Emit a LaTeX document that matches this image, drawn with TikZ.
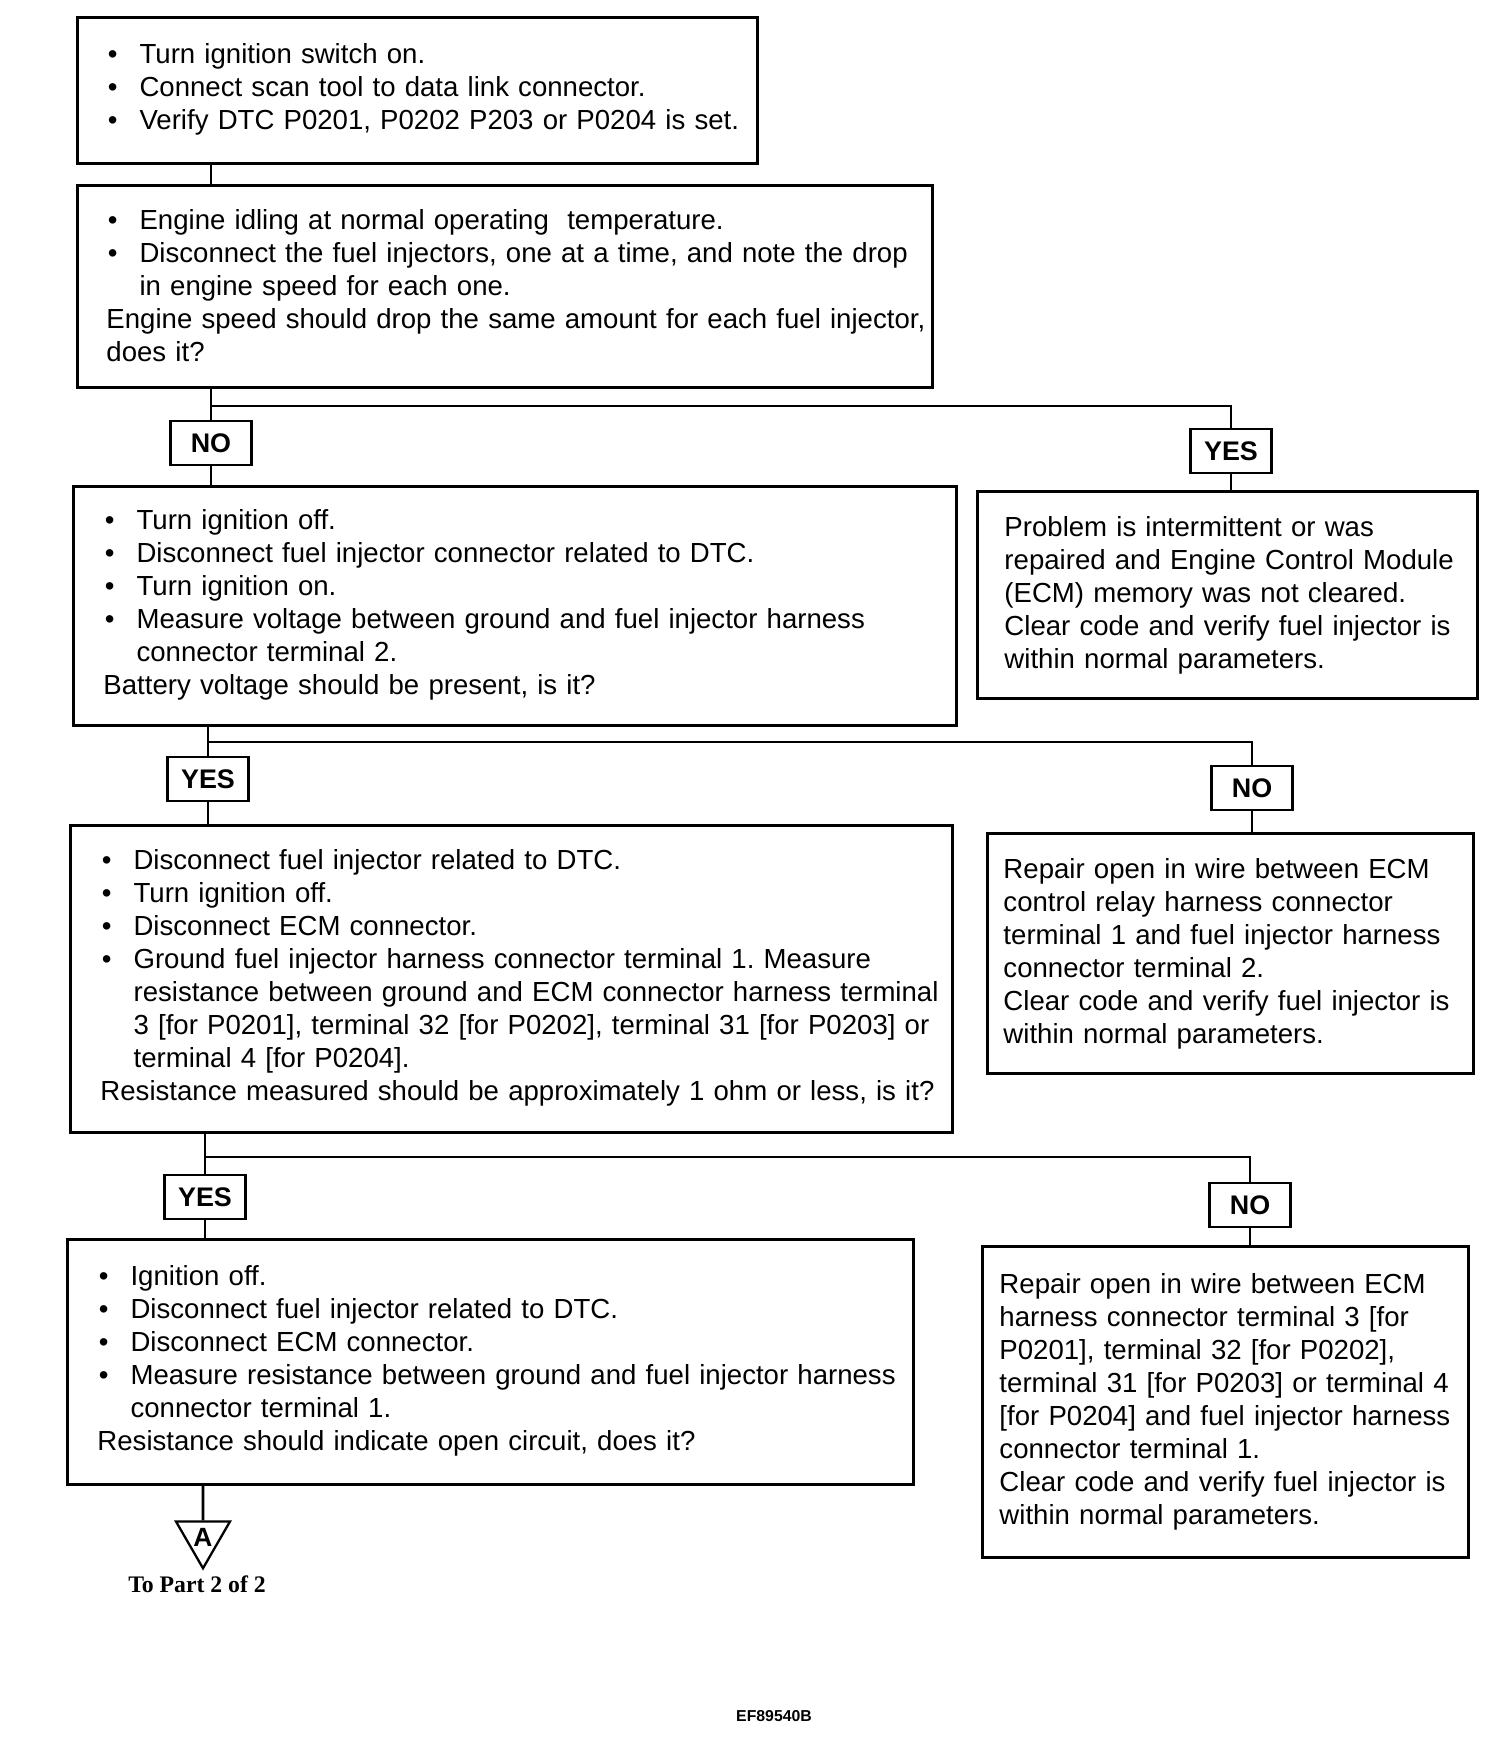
\documentclass[tikz,border=0pt]{standalone}
\usepackage{fontspec}
\setmainfont{Liberation Sans}
\newfontfamily\partfont{Liberation Serif}
\usetikzlibrary{positioning, shapes.geometric}
\frenchspacing

\newcommand{\bul}{\par\hangindent=1.2em\hangafter=1\makebox[1.2em][l]{\hspace{0.05em}\textbullet}}
\newcommand{\tailgap}{\par\vspace{0.3cm}}

\begin{document}
\begin{tikzpicture}[x=0.02cm, y=-0.02cm,
		box/.style={draw, line width=1.7pt, anchor=north west, inner xsep=0pt, inner ysep=0pt,
			font=\fontsize{15.7}{18.8}\selectfont,
			execute at begin node={\parindent=0pt\leftskip=#1\rightskip=0pt minus 1cm}},
		box/.default=0.58cm,
		lift/.style={execute at end node=\tailgap},
		ans/.style={draw, line width=1.2pt, fill=white, font=\fontsize{15.3}{18}\selectfont\bfseries,
			minimum width=1.62cm, minimum height=0.88cm, inner sep=0pt},
		tri/.style={draw, line width=1.3pt, regular polygon, regular polygon sides=3, shape border rotate=180,
			minimum size=1.25cm, inner sep=0pt, font=\fontsize{15}{18}\selectfont\bfseries},
		wire/.style={line width=1.6pt}]
		\useasboundingbox (0,0) rectangle (1504,1756);
		
		\node[box, lift, text width=13.6cm, minimum height=2.92cm] (s1) at (76,16) {
			\bul Turn ignition switch on.
			\bul Connect scan tool to data link connector.
			\bul Verify DTC P0201, P0202 P203 or P0204 is set.};
		\node[box, lift, text width=17.1cm, minimum height=4.04cm] (s2) at (76,184) {
			\bul Engine idling at normal operating\ \ temperature.
			\bul Disconnect the fuel injectors, one at a time, and note the drop\newline in engine speed for each one.
			\par Engine speed should drop the same amount for each fuel injector,\newline does it?};
		
		\node[ans] (n1) at (211,443) {NO};
		\node[ans] (y1) at (1231,451) {YES};
		\coordinate (j1) at (211,406);
		
		\node[box=0.6cm, lift, text width=17.66cm, minimum height=4.78cm] (s3) at (72,485) {
			\bul Turn ignition off.
			\bul Disconnect fuel injector connector related to DTC.
			\bul Turn ignition on.
			\bul Measure voltage between ground and fuel injector harness\newline connector terminal 2.
			\par Battery voltage should be present, is it?};
		\node[box=0.54cm, text width=10cm, minimum height=4.14cm] (s4) at (976,490) {
			Problem is intermittent or was\\ repaired and Engine Control Module\\ (ECM) memory was not cleared.\\
			Clear code and verify fuel injector is\\ within normal parameters.};
		
		\node[ans] (y2) at (208,779) {YES};
		\node[ans] (n2) at (1252,788) {NO};
		\coordinate (j2) at (208,742);
		
		\node[box=0.6cm, lift, text width=17.64cm, minimum height=6.14cm] (s5) at (69,824) {
			\bul Disconnect fuel injector related to DTC.
			\bul Turn ignition off.
			\bul Disconnect ECM connector.
			\bul Ground fuel injector harness connector terminal 1. Measure\newline resistance between ground and ECM connector harness terminal\newline 3 [for P0201], terminal 32 [for P0202], terminal 31 [for P0203] or\newline terminal 4 [for P0204].
			\par Resistance measured should be approximately 1 ohm or less, is it?};
		\node[box=0.32cm, text width=9.72cm, minimum height=4.8cm] (s6) at (986,832) {
			Repair open in wire between ECM\\ control relay harness connector\\ terminal 1 and fuel injector harness\\ connector terminal 2.\\
			Clear code and verify fuel injector is\\ within normal parameters.};
		
		\node[ans] (y3) at (205,1197) {YES};
		\node[ans] (n3) at (1250,1205) {NO};
		\coordinate (j3) at (205,1157);
		
		\node[box=0.6cm, lift, text width=16.92cm, minimum height=4.9cm] (s7) at (66,1238) {
			\bul Ignition off.
			\bul Disconnect fuel injector related to DTC.
			\bul Disconnect ECM connector.
			\bul Measure resistance between ground and fuel injector harness\newline connector terminal 1.
			\par Resistance should indicate open circuit, does it?};
		\node[box=0.34cm, text width=9.72cm, minimum height=6.22cm] (s8) at (981,1245) {
			Repair open in wire between ECM\\ harness connector terminal 3 [for\\ P0201], terminal 32 [for P0202],\\ terminal 31 [for P0203] or terminal 4\\{}[for P0204] and fuel injector harness\\ connector terminal 1.\\
			Clear code and verify fuel injector is\\ within normal parameters.};
		
		\node[tri] (toA) at (203,1537) {A};
		\node[below=0.1cm of toA, xshift=-0.12cm, inner sep=0pt, font=\fontsize{13.5}{16}\selectfont\partfont\bfseries] (part) {To Part 2 of 2};
		\node[font=\fontsize{9}{11}\selectfont\bfseries] (fig) at (774,1716) {EF89540B};
		
		\draw[wire] (n1 |- s1.south) -- (n1 |- s2.north);
		\draw[wire] (n1 |- s2.south) -- (n1.north);
		\draw[wire] (j1) -| (y1.north);
		\draw[wire] (n1.south) -- (n1 |- s3.north);
		\draw[wire] (y1.south) -- (y1 |- s4.north);
		
		\draw[wire] (y2 |- s3.south) -- (y2.north);
		\draw[wire] (j2) -| (n2.north);
		\draw[wire] (y2.south) -- (y2 |- s5.north);
		\draw[wire] (n2.south) -- (n2 |- s6.north);
		
		\draw[wire] (y3 |- s5.south) -- (y3.north);
		\draw[wire] (j3) -| (n3.north);
		\draw[wire] (y3.south) -- (y3 |- s7.north);
		\draw[wire] (n3.south) -- (n3 |- s8.north);
		
		\draw[wire] (toA |- s7.south) -- (toA.north);
	\end{tikzpicture}
\end{document}
